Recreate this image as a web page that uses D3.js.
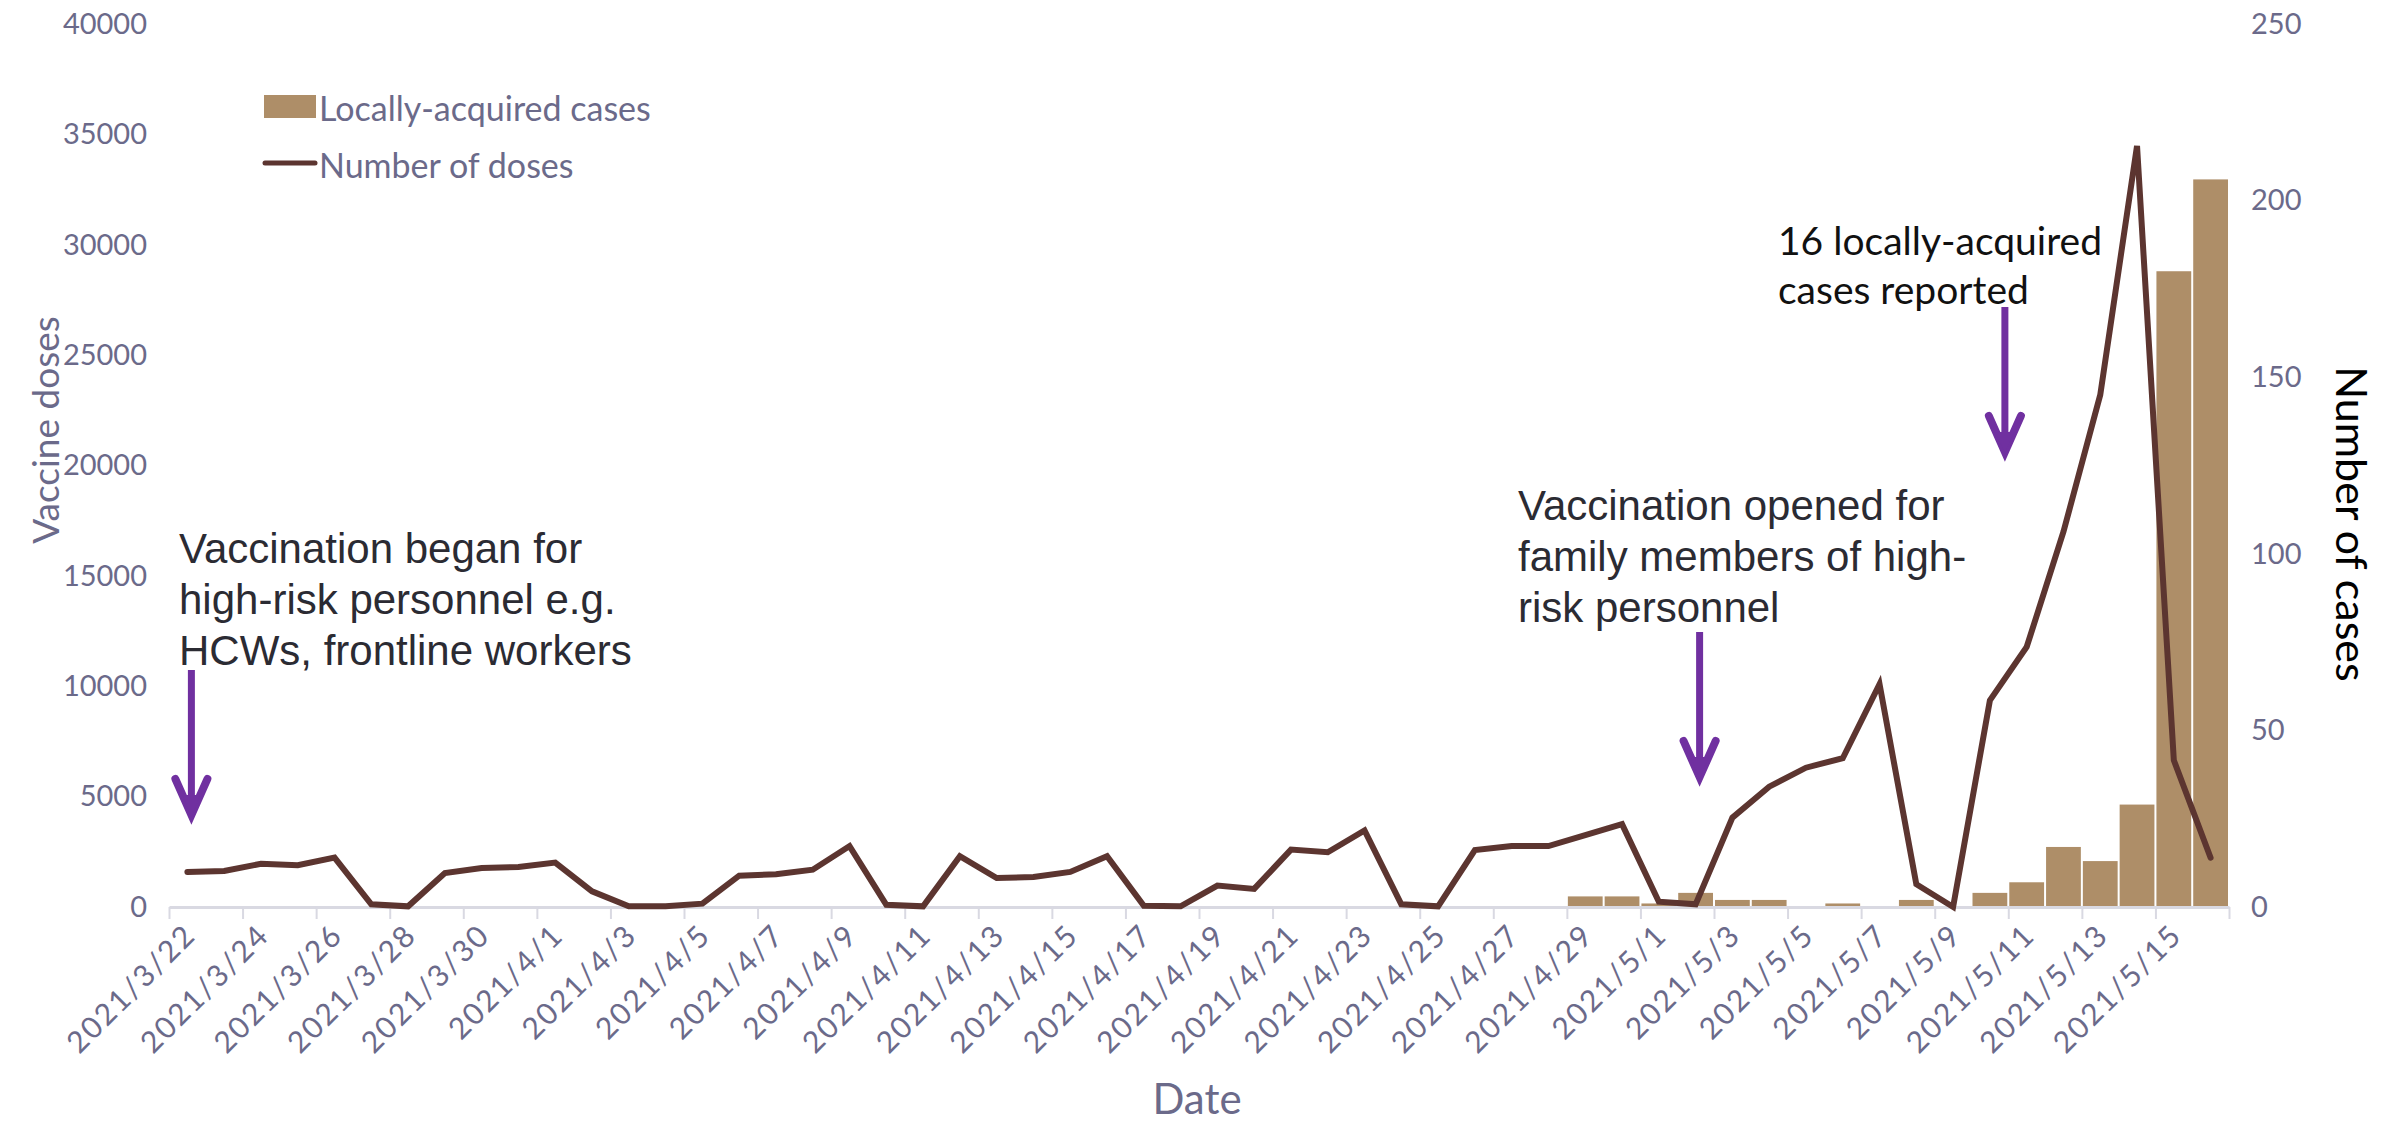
<!DOCTYPE html>
<html>
<head>
<meta charset="utf-8">
<script src="https://cdn.jsdelivr.net/npm/d3@7"></script>
<style>
  body { margin: 0; background: #fff; }
  svg { display: block; }
</style>
</head>
<body>
<svg id="chart" width="2404" height="1125"></svg>
<script>
// dates, one per day from 2021/3/22 to 2021/5/16
const dates = [
  '2021/3/22','2021/3/23','2021/3/24','2021/3/25','2021/3/26','2021/3/27','2021/3/28','2021/3/29','2021/3/30','2021/3/31',
  '2021/4/1','2021/4/2','2021/4/3','2021/4/4','2021/4/5','2021/4/6','2021/4/7','2021/4/8','2021/4/9','2021/4/10',
  '2021/4/11','2021/4/12','2021/4/13','2021/4/14','2021/4/15','2021/4/16','2021/4/17','2021/4/18','2021/4/19','2021/4/20',
  '2021/4/21','2021/4/22','2021/4/23','2021/4/24','2021/4/25','2021/4/26','2021/4/27','2021/4/28','2021/4/29','2021/4/30',
  '2021/5/1','2021/5/2','2021/5/3','2021/5/4','2021/5/5','2021/5/6','2021/5/7','2021/5/8','2021/5/9','2021/5/10',
  '2021/5/11','2021/5/12','2021/5/13','2021/5/14','2021/5/15','2021/5/16'
];

const doses = [
  1590, 1630, 1960, 1890, 2240, 120, 30, 1540, 1770, 1810,
  2010, 710, 30, 30, 150, 1420, 1480, 1690, 2760, 100,
  30, 2300, 1310, 1360, 1590, 2300, 60, 30, 970, 820,
  2600, 2480, 3470, 120, 30, 2580, 2760, 2760, 3260, 3750,
  240, 120, 4050, 5450, 6310, 6740, 10100, 1030, 0, 9360,
  11780, 17000, 23200, 34480, 6650, 2230
];

const cases = [
  0, 0, 0, 0, 0, 0, 0, 0, 0, 0,
  0, 0, 0, 0, 0, 0, 0, 0, 0, 0,
  0, 0, 0, 0, 0, 0, 0, 0, 0, 0,
  0, 0, 0, 0, 0, 0, 0, 0, 3, 3,
  1, 4, 2, 2, 0, 1, 0, 2, 0, 4,
  7, 17, 13, 29, 180, 206
];

const dosesTicks = [0, 5000, 10000, 15000, 20000, 25000, 30000, 35000, 40000];
const casesTicks = [0, 50, 100, 150, 200, 250];

const annotations = [
  { lines: ['Vaccination began for', 'high-risk personnel e.g.', 'HCWs, frontline workers'], date: '2021/3/22', dx: 4, x: 179, y: 563, arrowTop: 670, arrowTip: 817, font: '"Liberation Sans", Arial, sans-serif', size: 42, step: 51, color: '#2b2b33' },
  { lines: ['Vaccination opened for', 'family members of high-', 'risk personnel'], date: '2021/5/2', dx: 4, x: 1518, y: 520, arrowTop: 632, arrowTip: 779, font: '"Liberation Sans", Arial, sans-serif', size: 42, step: 51, color: '#2b2b33' },
  { lines: ['16 locally-acquired', 'cases reported'], date: '2021/5/10', dx: 15, x: 1778, y: 255, arrowTop: 307, arrowTip: 454, font: 'Lato, sans-serif', size: 39, step: 49, color: '#111' }
];

const axisColor = '#6b6a8a';
const barColor = '#ae8e68';
const lineColor = '#5c3530';
const arrowColor = '#7030a0';
const font = 'Lato, sans-serif';

const svg = d3.select('#chart');

const plotLeft = 169, plotRight = 2229, plotTop = 24, plotBottom = 907;

const x = d3.scaleBand().domain(dates).range([plotLeft, plotRight]).padding(0);
const xi = d3.scaleLinear().domain([0, dates.length]).range([plotLeft, plotRight]);
const yL = d3.scaleLinear().domain([0, 40000]).range([plotBottom, plotTop]);
const yR = d3.scaleLinear().domain([0, 250]).range([plotBottom, plotTop]);

// --- barres des cas ---
svg.append('g')
  .selectAll('rect')
  .data(dates.map((d, i) => ({ d, v: cases[i] })).filter(o => o.v > 0))
  .enter()
  .append('rect')
  .attr('x', o => x(o.d) + 1)
  .attr('y', o => yR(o.v))
  .attr('width', x.bandwidth() - 2)
  .attr('height', o => plotBottom - yR(o.v))
  .attr('fill', barColor);

// --- axe X ---
const xTicks = svg.append('g')
  .attr('transform', `translate(0,${plotBottom})`)
  .call(d3.axisBottom(xi)
    .tickValues(d3.range(0, dates.length + 1, 2))
    .tickFormat('')
    .tickSize(12)
    .tickSizeOuter(0));
xTicks.select('.domain').attr('stroke', '#d9d9e2').attr('stroke-width', 3);
xTicks.selectAll('.tick line').attr('stroke', '#d9d9e2').attr('stroke-width', 2);

const xLabels = svg.append('g')
  .attr('transform', `translate(0,${plotBottom})`)
  .call(d3.axisBottom(x)
    .tickValues(dates.filter((d, i) => i % 2 === 0))
    .tickSize(0));
xLabels.select('.domain').remove();
xLabels.selectAll('.tick text')
  .attr('fill', axisColor)
  .style('font-family', font)
  .style('font-size', '30px')
  .style('letter-spacing', '2px')
  .attr('text-anchor', 'end')
  .attr('dy', 0)
  .attr('y', 0)
  .attr('transform', 'translate(10,30) rotate(-45)');

// --- axe Y gauche ---
const yLeftAxis = svg.append('g')
  .attr('transform', `translate(${plotLeft - 18},0)`)
  .call(d3.axisLeft(yL).tickValues(dosesTicks).tickSize(0).tickPadding(4).tickFormat(d3.format('d')));
yLeftAxis.select('.domain').remove();
yLeftAxis.selectAll('text')
  .attr('fill', axisColor)
  .style('font-family', font)
  .style('font-size', '29px');

// --- axe Y droit ---
const yRightAxis = svg.append('g')
  .attr('transform', `translate(${plotRight + 18},0)`)
  .call(d3.axisRight(yR).tickValues(casesTicks).tickSize(0).tickPadding(4));
yRightAxis.select('.domain').remove();
yRightAxis.selectAll('text')
  .attr('fill', axisColor)
  .style('font-family', font)
  .style('font-size', '29px');

// --- ligne des doses ---
const line = d3.line()
  .x((d, i) => x(dates[i]) + x.bandwidth() / 2)
  .y(d => yL(d));

svg.append('path')
  .datum(doses)
  .attr('d', line)
  .attr('fill', 'none')
  .attr('stroke', lineColor)
  .attr('stroke-width', 6)
  .attr('stroke-linejoin', 'miter')
  .attr('stroke-linecap', 'round');

// --- titres des axes ---
svg.append('text')
  .attr('transform', 'translate(44,430) rotate(-90)')
  .attr('text-anchor', 'middle')
  .attr('dominant-baseline', 'central')
  .attr('fill', axisColor)
  .style('font-family', font)
  .style('font-size', '37px')
  .text('Vaccine doses');

svg.append('text')
  .attr('transform', 'translate(2352,524) rotate(90)')
  .attr('text-anchor', 'middle')
  .attr('dominant-baseline', 'central')
  .attr('fill', '#000')
  .style('font-family', font)
  .style('font-size', '43px')
  .text('Number of cases');

svg.append('text')
  .attr('x', 1197)
  .attr('y', 1114)
  .attr('text-anchor', 'middle')
  .attr('fill', axisColor)
  .style('font-family', font)
  .style('font-size', '42px')
  .text('Date');

// --- légende ---
const legend = svg.append('g');
legend.append('rect')
  .attr('x', 264).attr('y', 95).attr('width', 52).attr('height', 23)
  .attr('fill', barColor);
legend.append('text')
  .attr('x', 319).attr('y', 107)
  .attr('dominant-baseline', 'central')
  .attr('fill', axisColor)
  .style('font-family', font).style('font-size', '34px')
  .text('Locally-acquired cases');
legend.append('line')
  .attr('x1', 265).attr('x2', 315).attr('y1', 163).attr('y2', 163)
  .attr('stroke', lineColor).attr('stroke-width', 5).attr('stroke-linecap', 'round');
legend.append('text')
  .attr('x', 319).attr('y', 164)
  .attr('dominant-baseline', 'central')
  .attr('fill', axisColor)
  .style('font-family', font).style('font-size', '34px')
  .text('Number of doses');

// --- annotations et flèches ---
annotations.forEach(a => {
  const t = svg.append('text')
    .attr('x', a.x).attr('y', a.y)
    .attr('fill', a.color)
    .style('font-family', a.font)
    .style('font-size', a.size + 'px');
  a.lines.forEach((l, i) => {
    t.append('tspan').attr('x', a.x).attr('y', a.y + i * a.step).text(l);
  });

  const ax = x(a.date) + x.bandwidth() / 2 + a.dx;
  const g = svg.append('g');
  g.append('line')
    .attr('x1', ax).attr('x2', ax)
    .attr('y1', a.arrowTop).attr('y2', a.arrowTip - 10)
    .attr('stroke', arrowColor).attr('stroke-width', 7);
  g.append('path')
    .attr('d', `M${ax - 16},${a.arrowTip - 38} L${ax},${a.arrowTip - 2} L${ax + 16},${a.arrowTip - 38}`)
    .attr('fill', 'none')
    .attr('stroke', arrowColor).attr('stroke-width', 8)
    .attr('stroke-linecap', 'round').attr('stroke-linejoin', 'miter');
  g.append('path')
    .attr('d', `M${ax - 9},${a.arrowTip - 22} L${ax},${a.arrowTip} L${ax + 9},${a.arrowTip - 22} Z`)
    .attr('fill', arrowColor);
});
</script>
</body>
</html>
